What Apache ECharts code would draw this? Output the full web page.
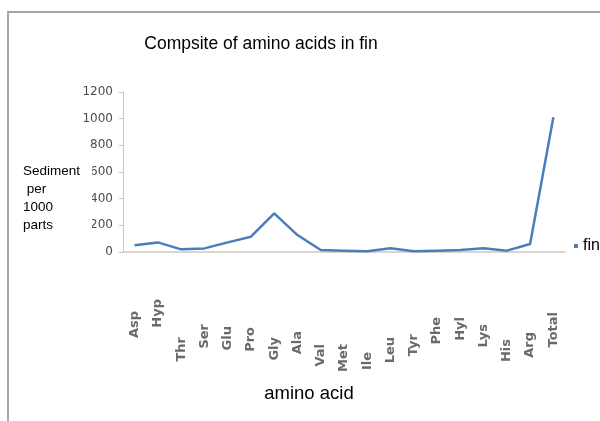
<!DOCTYPE html>
<html>
<head>
<meta charset="utf-8">
<script src="https://cdn.jsdelivr.net/npm/echarts@6/dist/echarts.min.js"></script>
<style>html,body{margin:0;padding:0;background:#fff}#c{width:600px;height:421px}</style>
</head>
<body>
<div id="c"></div>
<script>
const categories = ['Asp','Hyp','Thr','Ser','Glu','Pro','Gly','Ala','Val','Met','Ile','Leu','Tyr','Phe','Hyl','Lys','His','Arg','Total'];
const finValues = [50, 72, 20, 27, 72, 115, 290, 127, 15, 10, 5, 28, 5, 10, 15, 28, 10, 60, 1010];
const yTicks = [0, 200, 400, 600, 800, 1000, 1200];
const titleText = 'Compsite of amino acids in fin';
const seriesName = 'fin';
const xName = 'amino acid';
const yName = 'Sediment\n per\n1000\nparts';

// label vertical stagger (style only)
const labelDrop = [12,0,38,25,27,28,38,32,45,45,53,38,35,18,18,25,40,33,13];

const chart = echarts.init(document.getElementById('c'), null, {renderer:'canvas'});
chart.setOption({
  animation: false,
  backgroundColor: '#fff',
  textStyle: {fontFamily: 'Liberation Sans, Arial, sans-serif'},
  title: [
    {text: titleText, left: 256, top: 30, textAlign: 'center',
     textStyle: {fontSize: 17.5, fontWeight: 'normal', color: '#000'}},
    {text: yName, left: 16, top: 158, padding: [4, 12, 6, 7], backgroundColor: '#fff',
     textStyle: {fontSize: 13.5, fontWeight: 'normal', color: '#000', lineHeight: 18}}
  ],
  legend: {
    data: [seriesName], left: 569, top: 233, itemWidth: 4, itemHeight: 4, itemGap: 2,
    icon: 'rect', textStyle: {fontSize: 16, color: '#000'}
  },
  graphic: [{
    type: 'rect', shape: {x: 8, y: 12, width: 620, height: 440}, silent: true,
    style: {fill: 'none', stroke: '#a6a6a6', lineWidth: 2}
  }],
  grid: {left: 123, right: 35, top: 92, bottom: 169, containLabel: false},
  xAxis: {
    type: 'category', boundaryGap: true,
    data: categories.map((c, i) => ({value: c, textStyle: {padding: [0, labelDrop[i], 0, 0]}})),
    name: xName, nameLocation: 'middle', nameGap: 132,
    nameTextStyle: {fontSize: 18.5, color: '#000', padding: [0, 70, 0, 0]},
    axisLine: {lineStyle: {color: '#cfc8c0', width: 1.5}},
    axisTick: {show: false},
    axisLabel: {rotate: 90, interval: 0, margin: 47, fontSize: 13, color: '#6a6a6a', fontWeight: 'bold',
                fontFamily: 'DejaVu Sans, sans-serif'}
  },
  yAxis: {
    type: 'value', min: yTicks[0], max: yTicks[yTicks.length-1], interval: 200,
    axisLine: {show: true, lineStyle: {color: '#c8c8c8'}},
    axisTick: {show: true, length: 4, lineStyle: {color: '#c8c8c8'}},
    splitLine: {show: false},
    axisLabel: {fontSize: 12, color: '#4d4d4d', margin: 10, fontFamily: 'DejaVu Sans, sans-serif',
                formatter: v => String(v)}
  },
  series: [{
    name: seriesName, type: 'line', data: finValues, symbol: 'none',
    lineStyle: {color: '#4A7EBB', width: 2.5}, itemStyle: {color: '#4A7EBB'}
  }]
});
</script>
</body>
</html>
